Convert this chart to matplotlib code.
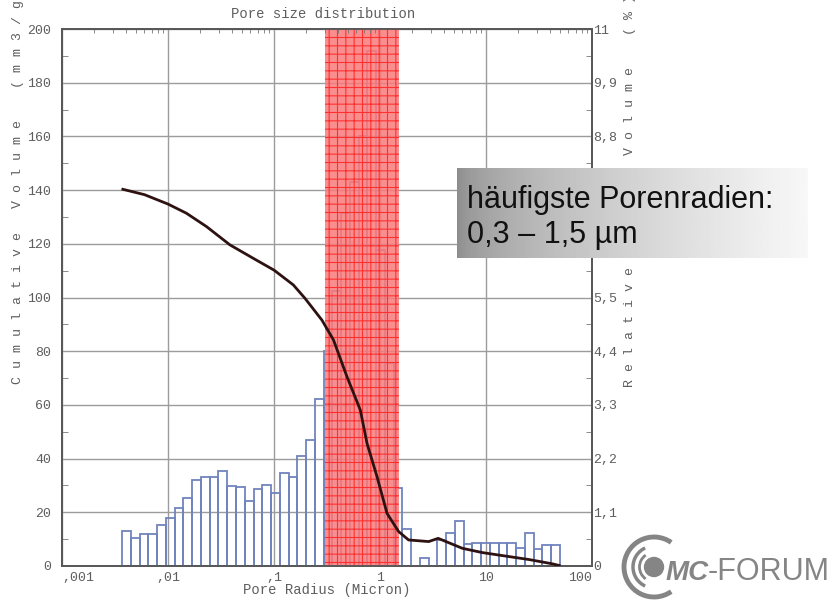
import numpy as np
import matplotlib
matplotlib.use("Agg")
import matplotlib.pyplot as plt
from matplotlib.patches import Circle, Arc
from matplotlib.ticker import MultipleLocator, NullFormatter

# relative pore volume (%) per log-spaced radius bin
bin_r_min, bin_r_max = 0.0037, 49.7
rel_volume = [0.72, 0.58, 0.65, 0.65, 0.85, 0.98, 1.18, 1.40, 1.76, 1.83,
              1.83, 1.94, 1.63, 1.61, 1.33, 1.58, 1.66, 1.49, 1.91, 1.83,
              2.26, 2.59, 3.42, 4.40, 5.64, 7.24, 7.87, 8.81, 10.55, 6.47,
              4.16, 1.59, 0.75, 0.00, 0.17, 0.00, 0.53, 0.67, 0.93, 0.46,
              0.48, 0.48, 0.48, 0.48, 0.48, 0.36, 0.68, 0.34, 0.43, 0.43]

# cumulative volume curve (mm3/g)
curve_radius = [0.00375, 0.0060, 0.01, 0.0149, 0.0231, 0.0384, 0.0637, 0.1, 0.152,
                0.196, 0.283, 0.364, 0.488, 0.652, 0.754, 0.937, 1.165, 1.50,
                1.86, 2.88, 3.54, 5.97, 9.23, 15.3, 25.5, 42.4, 49.0]
cum_volume = [140.3, 138.3, 134.8, 131.4, 126.4, 119.6, 114.6, 110.2, 104.7,
              99.7, 91.6, 84.2, 70.5, 58.1, 45.7, 33.3, 19.6, 12.8,
              9.7, 9.1, 10.3, 6.6, 5.0, 3.7, 2.4, 0.8, 0.2]

# most frequent pore radii (µm)
band_lo, band_hi = 0.3, 1.5

x_ticks = [0.001, 0.01, 0.1, 1, 10, 100]
x_labels = [",001", ",01", ",1", "1", "10", "100"]
left_ticks = list(range(0, 201, 20))
right_ticks = [0, 1.1, 2.2, 3.3, 4.4, 5.5, 6.6, 7.7, 8.8, 9.9, 11]
right_labels = ["0", "1,1", "2,2", "3,3", "4,4", "5,5", "6,6", "7,7", "8,8", "9,9", "11"]

title = "Pore size distribution"
xlabel = "Pore Radius (Micron)"
left_label = "C u m u l a t i v e   V o l u m e    ( m m 3 / g )"
right_label = "R e l a t i v e              V o l u m e    ( % )"
note_lines = ["häufigste Porenradien:", "0,3 – 1,5 µm"]

mono = "Liberation Mono"
grey = "#5e5e5e"
plt.rcParams["hatch.linewidth"] = 0.8

fig = plt.figure(figsize=(8.33, 6.02), dpi=100)
W, H = 833, 602
ax = fig.add_axes([62 / W, 1 - 566 / H, 530 / W, 537 / H])
ax2 = ax.twinx()
ax.set_zorder(ax2.get_zorder() + 1)
ax.patch.set_visible(False)
ax2.patch.set_visible(True)
ax2.patch.set_facecolor("white")

ax.set_xscale("log")
ax.set_xlim(0.001, 100)
ax.set_ylim(0, 200)
ax2.set_ylim(0, 11)

# back axes: grid, histogram, highlighted band
ax2.xaxis.set_visible(True)
ax2.tick_params(axis="x", which="both", bottom=False, top=False,
                labelbottom=False, labeltop=False)
ax2.set_axisbelow(True)
ax2.grid(True, which="major", color="#9c9c9c", linewidth=1.0)

edges = np.geomspace(bin_r_min, bin_r_max, len(rel_volume) + 1)
ax2.bar(edges[:-1], rel_volume, width=np.diff(edges), align="edge",
        fill=False, edgecolor="#7083bd", linewidth=1.3, zorder=2)
ax2.axvspan(band_lo, band_hi, facecolor="#fa7a7a", edgecolor="#ff2020",
            hatch="++", linewidth=0, alpha=0.85, zorder=3)

# front axes: cumulative curve
ax.plot(curve_radius, cum_volume, color="#2e1212", linewidth=2.0, zorder=4,
        solid_joinstyle="round")

ax.set_xticks(x_ticks, x_labels)
ax.xaxis.set_minor_formatter(NullFormatter())
ax.tick_params(axis="x", which="major", length=0, pad=4, labelsize=9.5,
               labelcolor=grey)
ax.tick_params(axis="x", which="minor", bottom=False, top=True,
               direction="in", length=3, color="#777")
for lab in ax.get_xticklabels():
    lab.set_fontfamily(mono)
xl = ax.get_xticklabels()
xl[0].set_ha("left")
xl[-1].set_ha("right")

ax.set_yticks(left_ticks)
ax.yaxis.set_minor_locator(MultipleLocator(10))
ax.tick_params(axis="y", which="major", length=0, pad=8, labelsize=9.5,
               labelcolor=grey)
ax.tick_params(axis="y", which="minor", direction="in", length=4, color="#777")
for lab in ax.get_yticklabels():
    lab.set_fontfamily(mono)

ax2.set_yticks(right_ticks, right_labels)
ax2.yaxis.set_minor_locator(MultipleLocator(0.55))
ax2.tick_params(axis="y", which="major", length=0, pad=1, labelsize=9.5,
                labelcolor=grey)
ax2.tick_params(axis="y", which="minor", direction="in", length=4, color="#777")
for lab in ax2.get_yticklabels():
    lab.set_fontfamily(mono)

for a in (ax, ax2):
    for s in a.spines.values():
        s.set_color("#585858")
        s.set_linewidth(1.3)

# overlay in pixel coordinates for labels, note box and logo
ov = fig.add_axes([0, 0, 1, 1], zorder=10)
ov.patch.set_visible(False)

ov.text(323, 14, title, family=mono, fontsize=10, color=grey, ha="center", va="center")
ov.text(327, 590, xlabel, family=mono, fontsize=10, color=grey, ha="center", va="center")
ov.text(18, 384, left_label, family=mono, fontsize=9.5, color=grey,
        rotation=90, ha="center", va="bottom")
ov.text(630, 387, right_label, family=mono, fontsize=9.5, color=grey,
        rotation=90, ha="center", va="bottom")

t = np.linspace(0, 1, 256)
grad = (0.55 + 0.42 * t ** 0.6)[None, :]
ov.imshow(grad, extent=(457, 808, 258, 168), cmap="gray", vmin=0, vmax=1,
          aspect="auto", zorder=1)
ov.text(467, 208, note_lines[0], family="Liberation Sans", fontsize=22,
        color="#111111", va="baseline", zorder=2)
ov.text(467, 243, note_lines[1], family="Liberation Sans", fontsize=22,
        color="#111111", va="baseline", zorder=2)

logo_grey = "#858585"
cx, cy = 654, 567
ov.add_patch(Circle((cx, cy), 9.5, color=logo_grey, zorder=2))
ov.add_patch(Arc((cx, cy), 29, 29, theta1=125, theta2=235, color=logo_grey, lw=2.0, zorder=2))
ov.add_patch(Arc((cx, cy), 42, 42, theta1=115, theta2=245, color=logo_grey, lw=2.5, zorder=2))
ov.add_patch(Arc((cx, cy), 60, 60, theta1=55, theta2=305, color=logo_grey, lw=3.5, zorder=2))
ov.text(666, 580, "MC", family="Liberation Sans", fontsize=20, fontweight="bold",
        fontstyle="italic", color=logo_grey, va="baseline", zorder=3)
ov.text(708, 580, "-FORUM", family="Liberation Sans", fontsize=22,
        color=logo_grey, va="baseline", zorder=3)

ov.set_xlim(0, W)
ov.set_ylim(H, 0)
ov.axis("off")

fig.savefig("out.png", dpi=100)
